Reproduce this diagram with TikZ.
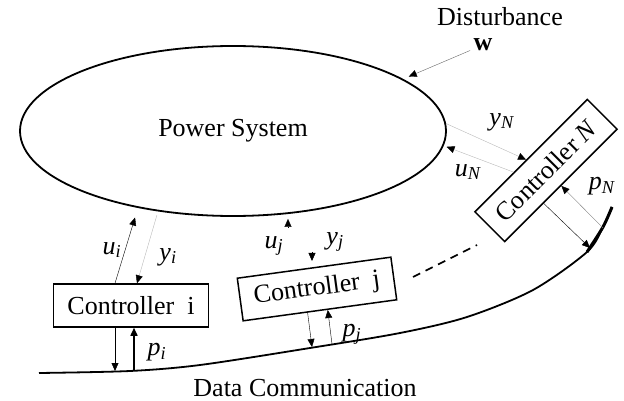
\documentclass[tikz,border=0pt]{standalone}
\usepackage{fontspec}
\setmainfont{Liberation Serif}
\usetikzlibrary{shapes.geometric,arrows.meta,calc}
\newcommand{\sg}[2]{\textit{#1}\textsubscript{\textit{#2}}}

\begin{document}
\begin{tikzpicture}[x=1pt,y=-1pt,
	font=\fontsize{26}{30}\selectfont,
	arr/.style={-{Triangle[length=8pt,width=7pt,color=black]}},
	faint/.style={arr,gray!55,thin},
	ctrl/.style={draw,line width=1.5pt,minimum width=155pt,minimum height=43pt,inner sep=0pt}]
\useasboundingbox (0,0) rectangle (624,401);

% plant and controllers
\node[ellipse,draw,line width=1.8pt,minimum width=426pt,minimum height=170pt,inner sep=0pt] (ps) at (233,131) {Power System};
\node[ctrl] (ci) at (131,305.5) {Controller\ \ i};
\node[ctrl,rotate=7.8] (cj) at (317,289) {Controller\ \ j};
\node[ctrl,rotate=45,minimum width=159pt,minimum height=42pt] (cN) at (546,170.5) {Controller \textit{N}};

\node (dist) at (500,17) {Disturbance};
\node (w) at (483,45) {\textbf{w}};
\node (comm) at (305,388) {Data Communication};

% communication line
\draw[line width=1.8pt] plot[smooth] coordinates {(39,373) (130,371) (200,365) (310,348) (400,333) (467,317) (533,290) (587,252) (603,227) (612,207)};
\draw[line width=3pt] plot[smooth] coordinates {(587,252) (603,227) (612,207)};
\coordinate (bi1) at (115,371);
\coordinate (bi2) at (134,371);
\coordinate (bj1) at (312,347);
\coordinate (bj2) at (332,344);
\coordinate (bN1) at (590,248);
\coordinate (bN2) at (603,228);

% disturbance
\draw[arr,gray!80!black,thin,shorten >=6pt] (w) -- (ps.17);

% controller i
\draw[arr,shorten >=10pt] ($(ci.north)+(-16,0)$) -- (ps.219);
\draw[faint,shorten <=4pt] (ps.227) -- ($(ci.north)+(6,0)$);
\draw[arr] ($(ci.south)+(-16,0)$) -- (bi1);
\draw[arr,line width=1.5pt] (bi2) -- (bi2 |- ci.south);
\node (lui) at (112,250) {\sg{u}{i}};
\node (lyi) at (168,257) {\sg{y}{i}};
\node (lpi) at (157,352) {\sg{p}{i}};

% controller j
\coordinate (uj) at (288,227);
\coordinate (yj) at (312,252);
\draw[arr,shorten >=2pt] (uj) -- (uj |- ps.south);
\draw[arr,shorten >=6pt] (yj) -- (yj |- cj.north);
\draw[arr] ($(cj.south)!0.16!(cj.south west)$) -- (bj1);
\draw[arr] (bj2) -- ($(cj.south)!0.1!(cj.south east)$);
\node (luj) at (274,246) {\sg{u}{j}};
\node (lyj) at (335,242) {\sg{y}{j}};
\node (lpj) at (352,334) {\sg{p}{j}};

% controller N
\draw[faint] (ps.2) -- ($(cN.north)!0.08!(cN.north west)$);
\draw[faint,shorten >=3pt] ($(cN.north)!0.3!(cN.north west)$) -- (ps.356);
\draw[arr] ($(cN.south)!0.31!(cN.south west)$) -- (bN1);
\draw[arr,gray] (bN2) -- (cN.south);
\node (lyN) at (502,122) {\sg{y}{N}};
\node (luN) at (468,172) {\sg{u}{N}};
\node (lpN) at (602,186) {\sg{p}{N}};

% more controllers
\coordinate (dA) at (413,277);
\coordinate (dB) at (477,245);
\draw[line width=1.6pt,dash pattern=on 8pt off 6pt] (dA) -- (dB);
\end{tikzpicture}
\end{document}
